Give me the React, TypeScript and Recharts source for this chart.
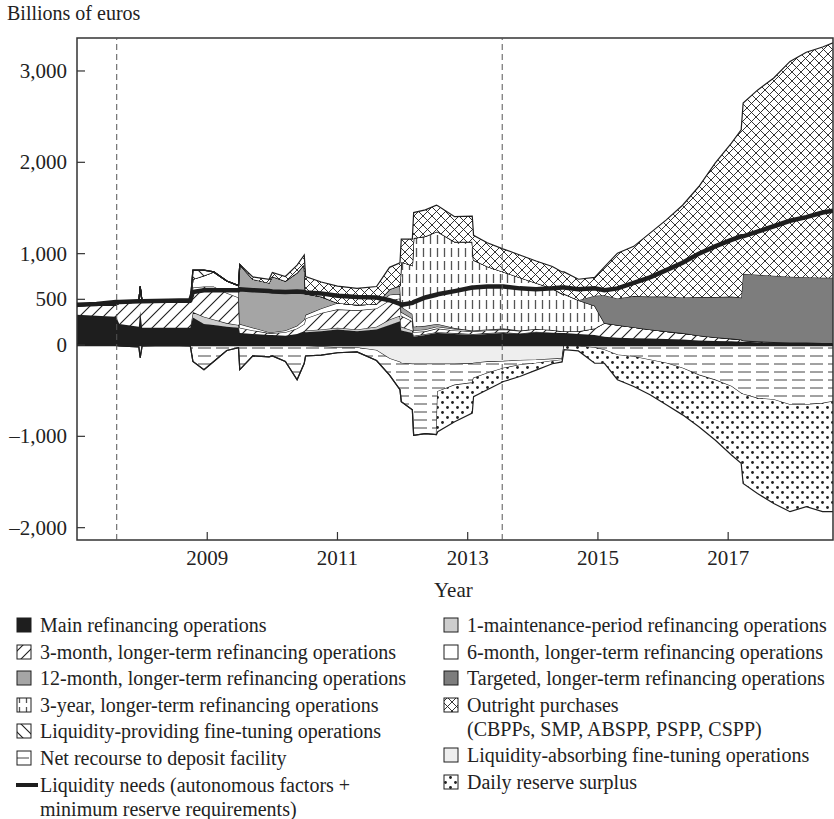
import React from "react";
import {
  ComposedChart,
  Area,
  Line,
  XAxis,
  YAxis,
  ReferenceLine,
  ReferenceArea,
} from "recharts";

// decimal year of each observation
const dates = [
  2007.0, 2007.3, 2007.6, 2007.65, 2007.95, 2007.97, 2008.0, 2008.4, 2008.74, 2008.78,
  2008.95, 2009.1, 2009.3, 2009.48, 2009.5, 2009.7, 2009.95, 2010.0, 2010.2, 2010.38,
  2010.49, 2010.51, 2010.75, 2011.0, 2011.3, 2011.6, 2011.8, 2011.96, 2011.98, 2012.15,
  2012.17, 2012.35, 2012.52, 2012.54, 2012.8, 2013.07, 2013.09, 2013.3, 2013.55, 2013.8,
  2014.05, 2014.3, 2014.45, 2014.48, 2014.7, 2014.95, 2015.1, 2015.3, 2015.55, 2015.8,
  2016.05, 2016.3, 2016.55, 2016.8, 2017.05, 2017.2, 2017.23, 2017.45, 2017.7, 2017.95,
  2018.2, 2018.45, 2018.61,
];

// liquidity providing (billions of euros)
const mainRefi = [
  330, 320, 310, 230, 200, 370, 190, 190, 190, 300,
  230, 220, 200, 190, 130, 120, 110, 110, 100, 120,
  150, 140, 150, 170, 150, 170, 220, 260, 160, 130,
  90, 110, 130, 130, 120, 110, 110, 120, 130, 120,
  140, 130, 130, 130, 120, 110, 90, 80, 75, 70,
  65, 60, 50, 45, 40, 35, 35, 30, 28, 25,
  25, 22, 22,
];
const oneMaint = [
  0, 0, 0, 0, 0, 0, 0, 0, 0, 60,
  80, 60, 40, 30, 0, 0, 0, 0, 0, 0,
  0, 20, 20, 20, 20, 30, 60, 60, 40, 30,
  10, 10, 10, 10, 10, 10, 10, 10, 10, 5,
  5, 5, 0, 0, 0, 0, 0, 0, 0, 0,
  0, 0, 0, 0, 0, 0, 0, 0, 0, 0,
  0, 0, 0,
];
const threeMonth = [
  100, 115, 130, 230, 270, 270, 280, 280, 280, 270,
  330, 360, 330, 300, 60, 40, 20, 20, 40, 60,
  80, 130, 180, 200, 210, 200, 210, 190, 120, 100,
  40, 30, 40, 40, 30, 30, 30, 30, 30, 30,
  30, 30, 20, 20, 30, 70, 150, 140, 120, 100,
  85, 70, 55, 40, 30, 25, 15, 10, 5, 3,
  2, 0, 0,
];
const sixMonth = [
  0, 0, 0, 0, 0, 0, 0, 0, 0, 90,
  120, 160, 130, 130, 40, 30, 10, 10, 20, 30,
  50, 40, 50, 70, 60, 50, 60, 50, 40, 30,
  20, 20, 20, 20, 15, 10, 10, 10, 10, 5,
  0, 0, 0, 0, 0, 0, 0, 0, 0, 0,
  0, 0, 0, 0, 0, 0, 0, 0, 0, 0,
  0, 0, 0,
];
const twelveMonth = [
  0, 0, 0, 0, 0, 0, 0, 0, 0, 0,
  0, 0, 0, 0, 650, 530, 540, 610, 540, 580,
  600, 230, 130, 0, 0, 0, 60, 90, 60, 50,
  40, 40, 30, 30, 10, 0, 0, 0, 0, 0,
  0, 0, 0, 0, 0, 0, 0, 0, 0, 0,
  0, 0, 0, 0, 0, 0, 0, 0, 0, 0,
  0, 0, 0,
];
const threeYear = [
  0, 0, 0, 0, 0, 0, 0, 0, 0, 0,
  0, 0, 0, 0, 0, 0, 0, 0, 0, 0,
  0, 0, 0, 0, 0, 0, 0, 0, 489, 530,
  970, 980, 1010, 1010, 945, 970, 770, 690, 620, 580,
  505, 455, 410, 410, 340, 250, 0, 0, 0, 0,
  0, 0, 0, 0, 0, 0, 0, 0, 0, 0,
  0, 0, 0,
];
const ftoProviding = [
  0, 0, 0, 0, 0, 0, 0, 0, 0, 100,
  60, 0, 0, 0, 0, 0, 0, 0, 0, 0,
  0, 0, 0, 0, 0, 0, 0, 0, 0, 0,
  0, 0, 0, 0, 0, 0, 0, 0, 0, 0,
  0, 0, 0, 0, 0, 0, 0, 0, 0, 0,
  0, 0, 0, 0, 0, 0, 0, 0, 0, 0,
  0, 0, 0,
];
const targeted = [
  0, 0, 0, 0, 0, 0, 0, 0, 0, 0,
  0, 0, 0, 0, 0, 0, 0, 0, 0, 0,
  0, 0, 0, 0, 0, 0, 0, 0, 0, 0,
  0, 0, 0, 0, 0, 0, 0, 0, 0, 0,
  0, 0, 0, 0, 0, 110, 305, 290, 340, 360,
  380, 390, 420, 440, 460, 460, 730, 730, 725, 720,
  715, 715, 715,
];
const outright = [
  0, 0, 0, 0, 0, 0, 0, 0, 0, 0,
  0, 0, 0, 0, 0, 25, 40, 45, 50, 85,
  105, 190, 160, 185, 180, 190, 240, 250, 250, 290,
  280, 290, 290, 285, 275, 280, 270, 260, 250, 245,
  240, 240, 240, 240, 230, 200, 310, 495, 545, 695,
  840, 1010, 1210, 1465, 1680, 1835, 1870, 2020, 2165, 2357,
  2463, 2525, 2570,
];

// liquidity absorbing (negative)
const ftoAbsorbing = [
  0, 0, 0, 0, 0, 0, 0, 0, 0, 0,
  0, 0, 0, 0, 0, 0, 0, 0, 0, 0,
  0, -10, -20, -30, -30, -60, -150, -190, -200, -210,
  -210, -210, -210, -210, -210, -205, -200, -185, -180, -170,
  -165, -155, -150, 0, 0, 0, 0, 0, 0, 0,
  0, 0, 0, 0, 0, 0, 0, 0, 0, 0,
  0, 0, 0,
];
const depositFacility = [
  -5, -5, -5, -10, -20, -140, -10, -5, -10, -180,
  -270, -180, -60, -30, -270, -120, -130, -120, -180, -380,
  -200, -110, -90, -55, -45, -110, -180, -300, -420, -500,
  -780, -760, -770, -300, -230, -210, -165, -125, -75, -50,
  -35, -20, -15, -10, -15, -30, -55, -110, -130, -165,
  -200, -255, -330, -385, -455, -530, -540, -585, -600, -655,
  -655, -640, -620,
];
const reserveSurplus = [
  0, 0, 0, 0, 0, 0, 0, 0, 0, 0,
  0, 0, 0, 0, 0, 0, 0, 0, 0, 0,
  0, 0, 0, 0, 0, 0, 0, 0, 0, 0,
  0, 0, 0, -440, -400, -330, -200, -180, -145, -125,
  -75, -30, -20, -40, -50, -170, -145, -270, -325, -380,
  -455, -510, -565, -655, -750, -765, -975, -1040, -1135, -1170,
  -1115, -1185, -1205,
];

const liquidityNeeds = [
  440, 450, 470, 470, 480, 480, 480, 485, 490, 580,
  600, 600, 600, 600, 610, 600, 590, 585, 580, 585,
  580, 575, 565, 540, 525, 520, 490, 450, 440, 460,
  470, 520, 550, 555, 590, 630, 630, 640, 640, 620,
  610, 620, 630, 630, 610, 620, 600, 620, 680, 740,
  820, 900, 1000, 1080, 1150, 1190, 1190, 1240, 1300, 1360,
  1400, 1450, 1470,
];

const yearTicks = [2009, 2011, 2013, 2015, 2017];
const valueTicks = [-2000, -1000, 0, 500, 1000, 2000, 3000];
const eventLines = [2007.61, 2013.53];

const data = dates.map((t, i) => ({
  t,
  mro: mainRefi[i],
  m1: oneMaint[i],
  m3: threeMonth[i],
  m6: sixMonth[i],
  m12: twelveMonth[i],
  y3: threeYear[i],
  ftoP: ftoProviding[i],
  tltro: targeted[i],
  app: outright[i],
  ftoA: ftoAbsorbing[i],
  dep: depositFacility[i],
  sur: reserveSurplus[i],
  liq: liquidityNeeds[i],
}));

const serif = '"Liberation Serif", "Times New Roman", serif';
const ink = "#1e1e1e";

const fmt = (v: number) =>
  (v < 0 ? "\u2013" : "") +
  String(Math.abs(v)).replace(/\B(?=(\d{3})+(?!\d))/g, ",");

const Patterns = () => (
  <svg width={0} height={0} style={{ position: "absolute" }}>
    <defs>
      <pattern id="p3m" patternUnits="userSpaceOnUse" width={12} height={12}>
        <rect width={12} height={12} fill="#fff" />
        <path d="M0,12 L12,0 M-3,3 L3,-3 M9,15 L15,9" stroke={ink} strokeWidth={1.1} />
      </pattern>
      <pattern id="pfto" patternUnits="userSpaceOnUse" width={12} height={12}>
        <rect width={12} height={12} fill="#fff" />
        <path d="M0,0 L12,12 M-3,9 L3,15 M9,-3 L15,3" stroke={ink} strokeWidth={1.1} />
      </pattern>
      <pattern id="p3y" patternUnits="userSpaceOnUse" width={7} height={13}>
        <rect width={7} height={13} fill="#fff" />
        <line x1={3.5} y1={1} x2={3.5} y2={10} stroke="#555" strokeWidth={1.3} />
      </pattern>
      <pattern id="pcross" patternUnits="userSpaceOnUse" width={9} height={9}>
        <rect width={9} height={9} fill="#fff" />
        <path d="M0,0 L9,9 M9,0 L0,9" stroke={ink} strokeWidth={0.9} />
      </pattern>
      <pattern id="pdash" patternUnits="userSpaceOnUse" width={18} height={8}>
        <rect width={18} height={8} fill="#fff" />
        <line x1={0} y1={4} x2={13} y2={4} stroke="#444" strokeWidth={1} />
      </pattern>
      <pattern id="pdots" patternUnits="userSpaceOnUse" width={10} height={10}>
        <rect width={10} height={10} fill="#fff" />
        <circle cx={2.5} cy={2.5} r={1.4} fill={ink} />
        <circle cx={7.5} cy={7.5} r={1.4} fill={ink} />
      </pattern>
    </defs>
  </svg>
);

const YTick = (props: any) => {
  const { x, y, payload } = props;
  return (
    <g>
      <line x1={x} x2={x + 8} y1={y} y2={y} stroke="#333" strokeWidth={1.2} />
      <text x={x - 10} y={y} dy={7} textAnchor="end" fontSize={21} fontFamily={serif} fill="#222">
        {fmt(payload.value)}
      </text>
    </g>
  );
};

const XTick = (props: any) => {
  const { x, y, payload } = props;
  return (
    <g>
      <line x1={x} x2={x} y1={y} y2={y - 8} stroke="#333" strokeWidth={1.2} />
      <text x={x} y={y + 25} textAnchor="middle" fontSize={21} fontFamily={serif} fill="#222">
        {payload.value}
      </text>
    </g>
  );
};

const positive = [
  { key: "mro", fill: ink },
  { key: "m1", fill: "#cdcdcd" },
  { key: "m3", fill: "url(#p3m)" },
  { key: "m6", fill: "#ffffff" },
  { key: "m12", fill: "#a5a5a5" },
  { key: "y3", fill: "url(#p3y)" },
  { key: "ftoP", fill: "url(#pfto)" },
  { key: "tltro", fill: "#7d7d7d" },
  { key: "app", fill: "url(#pcross)" },
];
const negative = [
  { key: "ftoA", fill: "#eeeeee" },
  { key: "dep", fill: "url(#pdash)" },
  { key: "sur", fill: "url(#pdots)" },
];

const legendLeft = [
  { fill: ink, lines: ["Main refinancing operations"] },
  { fill: "url(#p3m)", lines: ["3-month, longer-term refinancing operations"] },
  { fill: "#a5a5a5", lines: ["12-month, longer-term refinancing operations"] },
  { fill: "url(#p3y)", lines: ["3-year, longer-term refinancing operations"] },
  { fill: "url(#pfto)", lines: ["Liquidity-providing fine-tuning operations"] },
  { fill: "url(#pdash)", lines: ["Net recourse to deposit facility"] },
  { fill: "line", lines: ["Liquidity needs (autonomous factors +", "minimum reserve requirements)"] },
];
const legendRight = [
  { fill: "#cdcdcd", lines: ["1-maintenance-period refinancing operations"] },
  { fill: "#ffffff", lines: ["6-month, longer-term refinancing operations"] },
  { fill: "#7d7d7d", lines: ["Targeted, longer-term refinancing operations"] },
  { fill: "url(#pcross)", lines: ["Outright purchases", "(CBPPs, SMP, ABSPP, PSPP, CSPP)"] },
  { fill: "#eeeeee", lines: ["Liquidity-absorbing fine-tuning operations"] },
  { fill: "url(#pdots)", lines: ["Daily reserve surplus"] },
];

const LegendColumn = ({ items, left }: { items: typeof legendLeft; left: number }) => (
  <div style={{ position: "absolute", left, top: 613, fontFamily: serif, fontSize: 20, color: "#222" }}>
    {items.map((it, i) => (
      <div key={i} style={{ display: "flex", alignItems: "flex-start", marginBottom: 2.6, lineHeight: "24px" }}>
        <svg width={24} height={24} style={{ flex: "none" }}>
          {it.fill === "line" ? (
            <line x1={0} x2={22} y1={12} y2={12} stroke={ink} strokeWidth={4} />
          ) : (
            <rect x={1} y={5} width={14} height={14} fill={it.fill} stroke={ink} strokeWidth={1} />
          )}
        </svg>
        <div>
          {it.lines.map((l, j) => (
            <div key={j}>{l}</div>
          ))}
        </div>
      </div>
    ))}
  </div>
);

export default function App() {
  return (
    <div style={{ position: "absolute", left: 0, top: 0, width: 834, height: 819, background: "#fff" }}>
      <Patterns />
      <div style={{ position: "absolute", left: 7, top: 2, fontFamily: serif, fontSize: 20, color: "#222" }}>
        Billions of euros
      </div>
      <ComposedChart
        width={834}
        height={600}
        data={data}
        margin={{ top: 38, right: 1, bottom: 59, left: 76 }}
      >
        <XAxis
          dataKey="t"
          type="number"
          domain={[2007, 2018.61]}
          ticks={yearTicks}
          interval={0}
          height={1}
          tickSize={0}
          tickMargin={0}
          axisLine={false}
          tick={XTick}
          allowDataOverflow
        />
        <YAxis
          type="number"
          domain={[-2135, 3361]}
          ticks={valueTicks}
          interval={0}
          width={1}
          tickSize={0}
          tickMargin={0}
          axisLine={false}
          tick={YTick}
          allowDataOverflow
        />
        {positive.map((s) => (
          <Area
            key={s.key}
            type="linear"
            dataKey={s.key}
            stackId="pos"
            fill={s.fill}
            fillOpacity={1}
            stroke={ink}
            strokeWidth={1.2}
            isAnimationActive={false}
            dot={false}
            activeDot={false}
          />
        ))}
        {negative.map((s) => (
          <Area
            key={s.key}
            type="linear"
            dataKey={s.key}
            stackId="neg"
            fill={s.fill}
            fillOpacity={1}
            stroke={ink}
            strokeWidth={1.2}
            isAnimationActive={false}
            dot={false}
            activeDot={false}
          />
        ))}
        <Line
          type="linear"
          dataKey="liq"
          stroke={ink}
          strokeWidth={4.5}
          dot={false}
          activeDot={false}
          isAnimationActive={false}
        />
        <ReferenceLine y={0} stroke={ink} strokeWidth={2.5} />
        {eventLines.map((x) => (
          <ReferenceLine key={x} x={x} stroke="#555" strokeDasharray="6 4" strokeWidth={1} />
        ))}
        <ReferenceArea
          x1={2007}
          x2={2018.61}
          y1={-2135}
          y2={3361}
          fill="none"
          stroke="#333"
          strokeWidth={1.5}
        />
      </ComposedChart>
      <div style={{ position: "absolute", left: 434, top: 578, fontFamily: serif, fontSize: 21, color: "#222" }}>
        Year
      </div>
      <LegendColumn items={legendLeft} left={16} />
      <LegendColumn items={legendRight} left={443} />
    </div>
  );
}
